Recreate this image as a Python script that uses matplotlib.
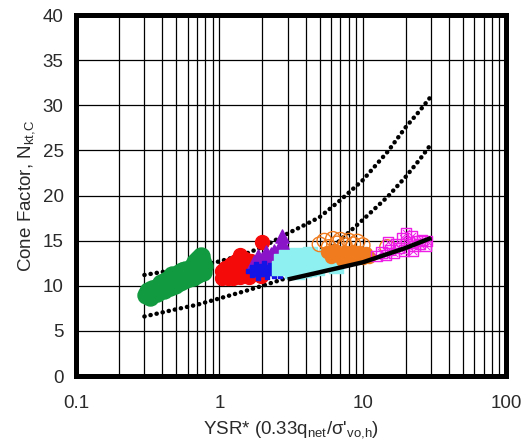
import matplotlib
matplotlib.use("Agg")
import matplotlib.pyplot as plt

plt.rcParams['font.family'] = ['Liberation Sans', 'DejaVu Sans']
plt.rcParams['mathtext.fontset'] = 'custom'
plt.rcParams['mathtext.rm'] = 'Liberation Sans'
plt.rcParams['mathtext.it'] = 'Liberation Sans'

# bounding curves (YSR*, Nkt)
upper_x = [0.3, 0.5, 0.7, 1.0, 1.5, 2.0, 3.0, 4.0, 5.0, 7.0, 10.0, 15.0, 20.0, 25.0, 30.0]
upper_y = [11.2, 11.8, 12.2, 12.7, 13.5, 14.3, 15.8, 16.8, 17.6, 19.5, 21.7, 24.9, 27.6, 29.4, 31.0]
lower_x = [0.3, 0.5, 0.7, 1.0, 1.5, 2.0, 3.0, 4.0, 5.0, 7.0, 10.0, 15.0, 20.0, 25.0, 30.0]
lower_y = [6.6, 7.4, 7.9, 8.6, 9.4, 10.0, 10.9, 11.9, 12.8, 15.1, 17.3, 19.9, 22.1, 24.0, 25.7]
fit_x = [3.0, 5.0, 10.0, 20.0, 30.0]
fit_y = [10.7, 11.5, 12.6, 14.2, 15.3]

green_x = [0.31, 0.32, 0.33, 0.34, 0.35, 0.36, 0.37, 0.38, 0.39, 0.40, 0.41, 0.42, 0.43,
           0.44, 0.45, 0.46, 0.47, 0.48, 0.50, 0.51, 0.52, 0.54, 0.55, 0.57, 0.58, 0.60,
           0.62, 0.63, 0.65, 0.66, 0.68, 0.70, 0.71, 0.72, 0.74, 0.75, 0.76, 0.78, 0.77,
           0.33, 0.37, 0.41, 0.45, 0.49, 0.53, 0.57, 0.61, 0.65, 0.69, 0.73]
green_y = [9.0, 9.4, 9.2, 9.6, 9.4, 9.8, 9.6, 10.0, 10.3, 9.9, 10.4, 10.1, 10.6,
           10.3, 10.8, 10.4, 11.2, 10.7, 11.0, 10.6, 11.4, 11.0, 11.6, 11.2, 11.8, 11.3,
           11.9, 11.5, 12.2, 11.6, 12.6, 12.0, 13.0, 12.4, 13.3, 11.9, 12.7, 12.2, 11.5,
           8.8, 9.2, 9.5, 9.9, 10.1, 10.4, 10.6, 10.9, 11.0, 11.2, 11.4]

red_x = [1.05, 1.05, 1.1, 1.1, 1.15, 1.15, 1.2, 1.2, 1.25, 1.3, 1.3, 1.35, 1.4, 1.4,
         1.45, 1.5, 1.5, 1.55, 1.6, 1.65, 1.7, 1.8, 2.0, 1.95, 1.25, 1.35, 1.6]
red_y = [10.9, 11.6, 11.2, 12.0, 10.9, 11.8, 12.4, 11.3, 10.9, 12.8, 11.6, 12.1, 13.4, 11.0,
         12.6, 11.5, 13.0, 12.2, 11.0, 12.7, 11.8, 12.3, 14.8, 11.1, 12.3, 12.9, 12.0]

purple_x = [1.75, 1.85, 1.9, 2.0, 2.1, 2.2, 2.3, 2.4, 2.5, 2.6, 2.75, 2.8, 2.7]
purple_y = [12.6, 13.3, 12.4, 13.0, 13.7, 12.9, 13.5, 13.9, 13.2, 14.2, 15.5, 14.6, 13.6]

blue_x = [1.7, 1.8, 1.85, 1.95, 2.05, 2.15, 2.25, 2.4, 2.55, 2.65]
blue_y = [11.6, 12.0, 11.3, 11.8, 12.1, 11.4, 11.9, 11.5, 12.0, 11.5]

cyan_x = [2.6, 2.7, 2.9, 3.0, 3.2, 3.3, 3.5, 3.7, 3.9, 4.0, 4.3, 4.5, 4.8, 5.0, 5.3,
          5.6, 6.0, 6.3, 6.5, 4.2, 3.5]
cyan_y = [12.0, 12.8, 13.2, 12.3, 11.6, 12.9, 13.4, 12.2, 11.8, 13.0, 13.5, 12.4, 12.0, 13.1, 12.7,
          13.3, 12.4, 12.9, 12.2, 11.9, 11.5]

orange_open_x = [5.0, 5.4, 5.8, 6.2, 6.6, 7.0, 7.5, 8.0, 8.6, 9.2, 10.0, 14.8]
orange_open_y = [14.6, 15.0, 14.3, 15.2, 14.7, 15.1, 14.5, 15.0, 14.6, 14.9, 14.5, 14.3]
orange_x = [5.6, 6.0, 6.4, 6.8, 7.2, 7.6, 8.0, 8.5, 9.0, 9.5, 10.0, 10.5, 11.0]
orange_y = [13.8, 13.2, 14.0, 13.4, 12.9, 13.7, 13.2, 13.9, 13.3, 13.8, 13.1, 13.6, 13.2]

magenta_x = [12.5, 13.5, 14.5, 15.5, 16.5, 17.0, 18.0, 19.0, 20.0, 21.0, 22.0, 23.0,
             24.0, 25.0, 26.0, 27.5, 28.0, 19.5, 22.5, 15.0]
magenta_y = [13.3, 13.7, 13.4, 14.0, 13.6, 14.6, 14.2, 15.3, 15.8, 14.8, 15.5, 14.4,
             15.0, 14.6, 15.1, 14.4, 15.0, 13.9, 13.9, 14.8]

fig = plt.figure(figsize=(5.26, 4.45), dpi=100)
ax = fig.add_axes([0.1445, 0.155, 0.8175, 0.811])

dots = dict(color='black', lw=3.2, linestyle=(0, (0.05, 1.35)), dash_capstyle='round', zorder=2)
ax.plot(upper_x, upper_y, **dots)
ax.plot(lower_x, lower_y, **dots)

ax.scatter(green_x, green_y, s=150, marker='o', color='#119a3f', zorder=3)
ax.scatter(red_x, red_y, s=100, marker='o', color='#f50a0a', zorder=3)
ax.scatter(purple_x, purple_y, s=90, marker='^', color='#8a14c8', zorder=3)
ax.scatter(blue_x, blue_y, s=70, marker='P', color='#1414e6', zorder=3)
ax.scatter(cyan_x, cyan_y, s=90, marker='s', color='#8ef0f0', zorder=3)
ax.scatter(orange_open_x, orange_open_y, s=110, marker='o', facecolors='none',
           edgecolors='#ef7b1e', linewidths=1.0, zorder=3)
ax.scatter(orange_x, orange_y, s=75, marker='o', color='#ef7b1e', zorder=3)
ax.scatter(magenta_x, magenta_y, s=55, marker='s', facecolors='none',
           edgecolors='#ee1ee6', linewidths=1.0, zorder=3)
ax.scatter(magenta_x, magenta_y, s=25, marker='x', color='#ee1ee6', linewidths=0.7, zorder=3)

ax.plot(fit_x, fit_y, color='black', lw=3.2, solid_capstyle='butt', zorder=4)

ax.set_xscale('log')
ax.set_xlim(0.1, 100)
ax.set_ylim(0, 40)
ax.set_yticks(range(0, 41, 5))
ax.set_xticks([0.1, 1, 10, 100])
ax.set_xticklabels(['0.1', '1', '10', '100'])
ax.grid(True, which='both', axis='x', color='black', lw=0.9)
ax.grid(True, which='major', axis='y', color='black', lw=0.9)
ax.set_axisbelow(True)
ax.tick_params(which='both', length=0, labelsize=13.5, colors='#2a2a2a')
ax.tick_params(axis='x', pad=14)
ax.tick_params(axis='y', pad=9)
for sp in ax.spines.values():
    sp.set_linewidth(3.6)

ax.set_xlabel(r"YSR* (0.33q$_{\mathrm{net}}$/σ'$_{\mathrm{vo{,}h}}$)", fontsize=13.5, color='#2a2a2a', labelpad=5)
ax.set_ylabel(r"Cone Factor, N$_{\mathrm{kt{,}C}}$", fontsize=13.5, color='#2a2a2a', labelpad=4)

fig.savefig('out.png', dpi=100)
